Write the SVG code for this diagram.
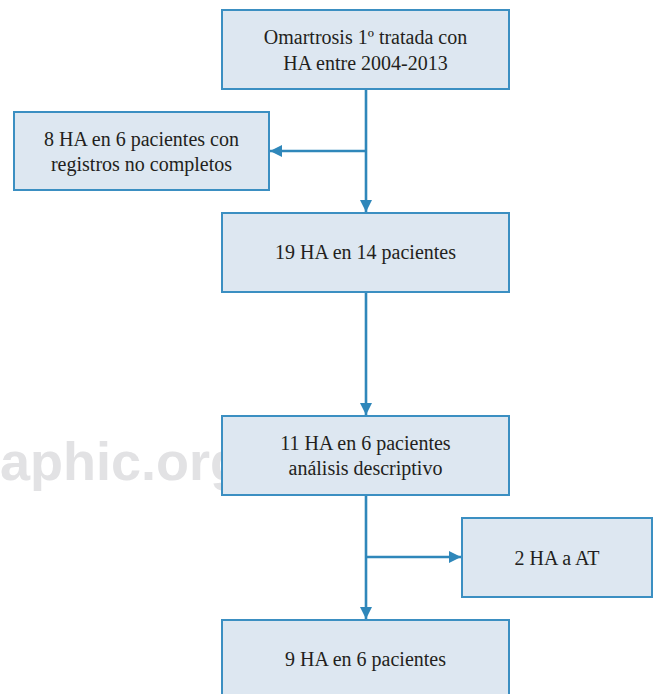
<svg xmlns="http://www.w3.org/2000/svg" width="654" height="694" viewBox="0 0 654 694">
<style>
.box{fill:#dde7f1;stroke:#3b8fc2;stroke-width:2}
.t{font-size:20px;fill:#231f20;text-anchor:middle}
.c{stroke:#2f87ba;stroke-width:2.6;fill:none}
.wm{font-weight:bold;font-size:54px;fill:#e2e2e4}
</style>
<defs>
<marker id="ah" viewBox="0 0 12 12" refX="12" refY="6" markerWidth="12" markerHeight="12" markerUnits="userSpaceOnUse" orient="auto">
<path d="M0,0 L12,6 L0,12 Z" fill="#2f87ba"/>
</marker>
</defs>
<rect width="654" height="694" fill="#ffffff"/>
<text class="wm" font-family="Liberation Sans, Arial, sans-serif" x="0" y="480">aphic.org</text>
<g id="connectors">
<line class="c" x1="366" y1="89" x2="366" y2="212" marker-end="url(#ah)"/>
<line class="c" x1="366" y1="151" x2="270" y2="151" marker-end="url(#ah)"/>
<line class="c" x1="366" y1="292" x2="366" y2="415" marker-end="url(#ah)"/>
<line class="c" x1="366" y1="495" x2="366" y2="619" marker-end="url(#ah)"/>
<line class="c" x1="366" y1="557" x2="461" y2="557" marker-end="url(#ah)"/>
</g>
<g font-family="Liberation Serif, Times New Roman, serif">
<g id="n1">
<rect class="box" x="222" y="10" width="287" height="79"/>
<text class="t" x="365.5" y="44">Omartrosis 1º tratada con</text>
<text class="t" x="365.5" y="70">HA entre 2004-2013</text>
</g>
<g id="n2">
<rect class="box" x="14" y="112" width="255" height="78"/>
<text class="t" x="141.5" y="146">8 HA en 6 pacientes con</text>
<text class="t" x="141.5" y="171">registros no completos</text>
</g>
<g id="n3">
<rect class="box" x="222" y="213" width="287" height="79"/>
<text class="t" x="365.5" y="259">19 HA en 14 pacientes</text>
</g>
<g id="n4">
<rect class="box" x="222" y="416" width="287" height="79"/>
<text class="t" x="365.5" y="450">11 HA en 6 pacientes</text>
<text class="t" x="365.5" y="475">análisis descriptivo</text>
</g>
<g id="n5">
<rect class="box" x="462" y="518" width="190" height="79"/>
<text class="t" x="557" y="565">2 HA a AT</text>
</g>
<g id="n6">
<rect class="box" x="222" y="620" width="287" height="80"/>
<text class="t" x="365.5" y="666">9 HA en 6 pacientes</text>
</g>
</g>
</svg>
